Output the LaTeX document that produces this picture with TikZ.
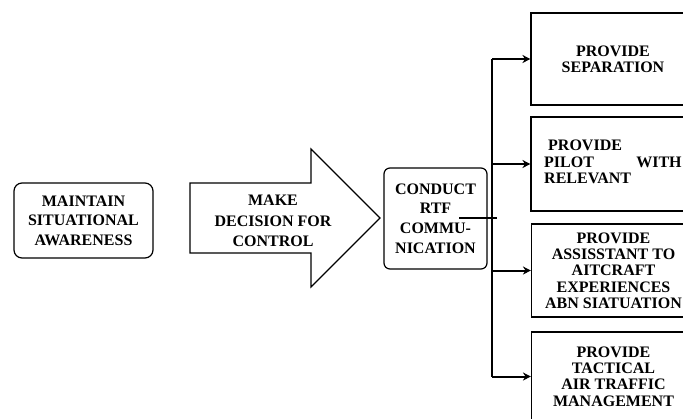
\documentclass[tikz,border=0pt]{standalone}
\usepackage{fontspec}
\setmainfont{Liberation Serif}
\usetikzlibrary{arrows.meta}
\begin{document}
\begin{tikzpicture}[x=1pt,y=-1pt,
  txt/.style={font=\fontsize{16}{19.6}\selectfont\bfseries, align=center, inner sep=0pt},
  txtb/.style={font=\fontsize{16}{16.3}\selectfont\bfseries, align=center, inner sep=0pt},
  rbox/.style={draw, line width=1.2pt, rounded corners=8pt, inner sep=0pt},
  sbox/.style={draw, line width=1.1pt, inner sep=0pt, minimum width=164pt},
  conn/.style={line width=2pt},
  arr/.style={conn, -{Stealth[length=8pt,width=8pt]}}]
\useasboundingbox (0,0) rectangle (683,418);
\clip (0,0) rectangle (683,418);

% left rounded box
\node[rbox, txt, minimum width=139pt, minimum height=75pt] (msa) at (83.5,220.5)
  {MAINTAIN\\SITUATIONAL\\AWARENESS};

% big arrow
\draw[line width=1.2pt, line join=miter] (190,183) -- (311,183) -- (311,149) -- (380,218)
  -- (311,287) -- (311,253) -- (190,253) -- cycle;
\node[txt, font=\fontsize{16}{20.5}\selectfont\bfseries] (mdc) at (273,221)
  {MAKE\\DECISION FOR\\CONTROL};

% conduct box
\node[rbox, txt, rounded corners=6pt, minimum width=103pt, minimum height=101pt] (rtf) at (435.5,218.5)
  {CONDUCT\\RTF\\COMMU-\\NICATION};

% right boxes
\node[sbox, txtb, minimum height=92pt] (b1) at (613,59) {PROVIDE\\SEPARATION};
\node[sbox, minimum height=94pt] (b2) at (613,164) {};
\node[txtb, anchor=west, text width=137.5pt, align=left] (b2t) at (544,162)
  {\hspace*{4pt}PROVIDE\\PILOT\hfill WITH\\RELEVANT};
\node[sbox, txtb, minimum height=93pt] (b3) at (613.5,270.5)
  {PROVIDE\\ASSISSTANT TO\\AITCRAFT\\EXPERIENCES\\ABN SIATUATION};
\node[sbox, txtb, minimum height=89pt] (b4) at (613.5,376.5)
  {PROVIDE\\TACTICAL\\AIR TRAFFIC\\MANAGEMENT};

% bus
\coordinate (bus) at (492,218);
\coordinate (h1) at (459,218);
\coordinate (h2) at (497,218);
\draw[conn] (b1.west -| bus) -- (b4.west -| bus);
\draw[conn] (h1) -- (h2);
\draw[arr] (b1.west -| bus) -- (b1.west);
\draw[arr] (b2.west -| bus) -- (b2.west);
\draw[arr] (b3.west -| bus) -- (b3.west);
\draw[arr] (b4.west -| bus) -- (b4.west);
\end{tikzpicture}
\end{document}
